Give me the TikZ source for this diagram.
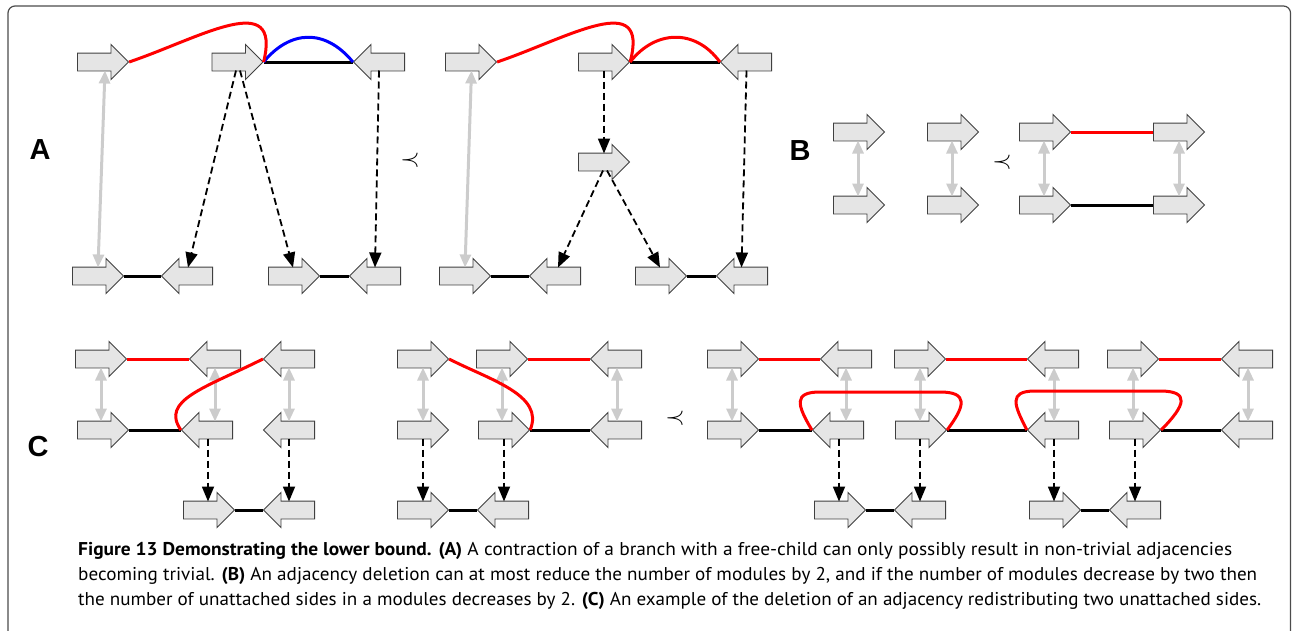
\documentclass[tikz,border=0pt]{standalone}
\usepackage{graphicx}
\usepackage{fontspec}
\setmainfont{PT Sans}
\newfontfamily\labfont{Liberation Sans}
\usetikzlibrary{shapes.arrows,arrows.meta,calc}
\newsavebox\capbox
\newlength\capw
\newcommand\fitline[2]{\sbox\capbox{#2}\setlength\capw{\wd\capbox}\pgfmathsetmacro\fitf{#1/\capw}\scalebox{\fitf}[1]{\usebox\capbox}}
\tikzset{
 modbase/.style={single arrow, draw=black!75, fill=black!10, line width=0.9pt, minimum height=51pt, minimum width=34pt, single arrow head extend=8.5pt, inner xsep=0pt, inner ysep=8.5pt, anchor=tail},
 modr/.style={modbase},
 modl/.style={modbase, shape border rotate=180},
 adj/.style={line width=3pt, black},
 adjred/.style={line width=3pt, red},
 adjblue/.style={line width=3pt, blue},
 gdbl/.style={draw=black!20, line width=3pt, {Triangle[length=13pt,width=11pt]}-{Triangle[length=13pt,width=11pt]}},
 dsh/.style={draw=black, line width=1.8pt, dash pattern=on 7pt off 4pt, -{Triangle[length=15pt,width=12pt]}},
 lab/.style={font=\labfont\bfseries\fontsize{29}{29}\selectfont, inner sep=0pt},
 precsym/.style={font=\fontsize{26}{26}\selectfont, inner sep=0pt},
 capline/.style={anchor=base west, inner sep=0pt, font=\fontsize{18.5}{20}\selectfont},
}
\newcommand\mR[3]{\node[modr] (#1) at (#2,#3) {};}
\newcommand\mL[3]{\node[modl] (#1) at (#2,#3) {};}
\newcommand\grayconn[4]{\draw[gdbl] ($(#1.tail)+(#2,8.5)$) -- ($(#3.tail)+(#4,-8.5)$);}
\newcommand\dashconn[4]{\draw[dsh] ($(#1.tail)+(#2,8.5)$) -- ($(#3.tail)+(#4,-8.5)$);}
\begin{document}
\begin{tikzpicture}[x=1pt,y=-1pt]
\useasboundingbox (0,0) rectangle (1292,630);
\draw[black!70, line width=1.2pt, rounded corners=7pt] (8,700) -- (8,6) -- (1290.5,6) -- (1290.5,700);
% labels
\node[lab] (labA) at (40,150) {A};
\node[lab] (labB) at (800,151) {B};
\node[lab] (labC) at (38,447) {C};
\node[precsym] (p1) at (410,160) {$\prec$};
\node[precsym] (p2) at (1002,162) {$\prec$};
\node[precsym] (p3) at (675,418) {$\prec$};
% ---------- Panel A left
\mR{A1}{77}{62} \mR{A2}{211.5}{62} \mL{A3}{405}{62}
\mR{B1}{72}{276} \mL{B2}{213}{276} \mR{B3}{268}{276} \mL{B4}{401}{276}
\draw[adj] (A2.tip) -- (A3.tip);
\draw[adj] (B1.tip) -- (B2.tip);
\draw[adj] (B3.tip) -- (B4.tip);
\draw[adjblue] (A2.tip) .. controls (290,30) and (325,28) .. (A3.tip);
\draw[adjred] (A1.tip) .. controls (200,38) and (282,-12) .. (A2.tip);
\grayconn{A1}{28}{B1}{26}
\dashconn{A2}{24.5}{B2}{-25}
\dashconn{A2}{28.5}{B3}{25}
\dashconn{A3}{-26}{B4}{-26}
% ---------- Panel A right
\mR{C1}{445}{62} \mR{C2}{578}{62} \mL{C3}{772}{62}
\mR{C4}{578}{162}
\mR{D1}{439}{276} \mL{D2}{581}{276} \mR{D3}{635}{276} \mL{D4}{768}{276}
\draw[adj] (C2.tip) -- (C3.tip);
\draw[adj] (D1.tip) -- (D2.tip);
\draw[adj] (D3.tip) -- (D4.tip);
\draw[adjred] (C2.tip) .. controls (655,30) and (695,28) .. (C3.tip);
\draw[adjred] (C1.tip) .. controls (568,38) and (650,-12) .. (C2.tip);
\grayconn{C1}{26.5}{D1}{26}
\dashconn{C2}{26}{C4}{26}
\dashconn{C4}{25}{D2}{-23}
\dashconn{C4}{29}{D3}{25}
\dashconn{C3}{-25.5}{D4}{-26.5}
% ---------- Panel B
\mR{E1}{833}{132} \mR{E2}{833}{205}
\mR{E3}{927}{132} \mR{E4}{927}{205}
\grayconn{E1}{25}{E2}{25}
\grayconn{E3}{25}{E4}{25}
\mR{F1}{1019}{132} \mR{F2}{1153}{132}
\mR{F3}{1019}{205} \mR{F4}{1153}{205}
\draw[adjred] (F1.tip) -- (F2.tail);
\draw[adj] (F3.tip) -- (F4.tail);
\grayconn{F1}{25}{F3}{25}
\grayconn{F2}{26}{F4}{26}
% ---------- Panel C, first
\mR{G1}{75}{359} \mL{G2}{241}{359} \mL{G3}{315}{359}
\mR{H1}{77}{430} \mL{H2}{233}{430} \mL{H3}{315}{430}
\mR{I1}{183}{510} \mL{I2}{315}{510}
\draw[adjred] (G1.tip) -- (G2.tip);
\draw[adj] (H1.tip) -- (H2.tip);
\draw[adj] (I1.tip) -- (I2.tip);
\grayconn{G1}{26}{H1}{24}
\grayconn{G2}{-26}{H2}{-18}
\grayconn{G3}{-26}{H3}{-26}
\dashconn{H2}{-25}{I1}{25}
\dashconn{H3}{-26}{I2}{-26}
\draw[adjred] (G3.tip) .. controls (205,388) and (160,400) .. (H2.tip);
% ---------- Panel C, second
\mR{J1}{397}{359} \mR{J2}{476}{359} \mL{J3}{642}{359}
\mR{K1}{397}{430} \mR{K2}{478}{430} \mL{K3}{642}{430}
\mR{L1}{397}{510} \mL{L2}{529}{510}
\draw[adjred] (J2.tip) -- (J3.tip);
\draw[adj] (K2.tip) -- (K3.tip);
\draw[adj] (L1.tip) -- (L2.tip);
\grayconn{J1}{26}{K1}{26}
\grayconn{J2}{26}{K2}{24}
\grayconn{J3}{-25}{K3}{-25}
\dashconn{K1}{26}{L1}{26}
\dashconn{K2}{26}{L2}{-25}
\draw[adjred] (J1.tip) .. controls (490,380) and (545,395) .. (K2.tip);
% ---------- Panel C, third
\mR{M1}{707}{359} \mL{M2}{872}{359} \mR{M3}{894}{359} \mL{M4}{1079}{359} \mR{M5}{1107}{359} \mL{M6}{1273}{359}
\mR{N1}{707}{430} \mL{N2}{864}{430} \mR{N3}{895}{430} \mL{N4}{1079}{430} \mR{N5}{1109}{430} \mL{N6}{1273}{430}
\mR{O1}{814}{510} \mL{O2}{946}{510}
\mR{P1}{1029}{510} \mL{P2}{1161}{510}
\draw[adjred] (M1.tip) -- (M2.tip);
\draw[adjred] (M3.tip) -- (M4.tip);
\draw[adjred] (M5.tip) -- (M6.tip);
\draw[adj] (N1.tip) -- (N2.tip);
\draw[adj] (N3.tip) -- (N4.tip);
\draw[adj] (N5.tip) -- (N6.tip);
\draw[adj] (O1.tip) -- (O2.tip);
\draw[adj] (P1.tip) -- (P2.tip);
\grayconn{M1}{25}{N1}{25}
\grayconn{M2}{-26}{N2}{-18}
\grayconn{M3}{26}{N3}{25}
\grayconn{M4}{-25}{N4}{-25}
\grayconn{M5}{26}{N5}{24}
\grayconn{M6}{-25}{N6}{-25}
\dashconn{N2}{-25}{O1}{25}
\dashconn{N3}{25}{O2}{-26}
\dashconn{N4}{-25}{P1}{25}
\dashconn{N5}{26}{P2}{-26}
\draw[adjred] (N2.tip) .. controls (797,405) and (793,392) .. (820,392) -- (940,392) .. controls (968,392) and (966,405) .. (N3.tip);
\draw[adjred] (N4.tip) .. controls (1014,405) and (1008,391) .. (1035,391) -- (1160,391) .. controls (1190,391) and (1186,405) .. (N5.tip);
% ---------- caption
\node[capline] (cap1) at (78,555) {\fitline{1154}{\textbf{Figure 13 Demonstrating the lower bound.} \textbf{(A)} A contraction of a branch with a free-child can only possibly result in non-trivial adjacencies}};
\node[capline] (cap2) at (78,580) {\fitline{1179}{becoming trivial. \textbf{(B)} An adjacency deletion can at most reduce the number of modules by 2, and if the number of modules decrease by two then}};
\node[capline] (cap3) at (78,605) {\fitline{1183}{the number of unattached sides in a modules decreases by 2. \textbf{(C)} An example of the deletion of an adjacency redistributing two unattached sides.}};
\end{tikzpicture}
\end{document}
